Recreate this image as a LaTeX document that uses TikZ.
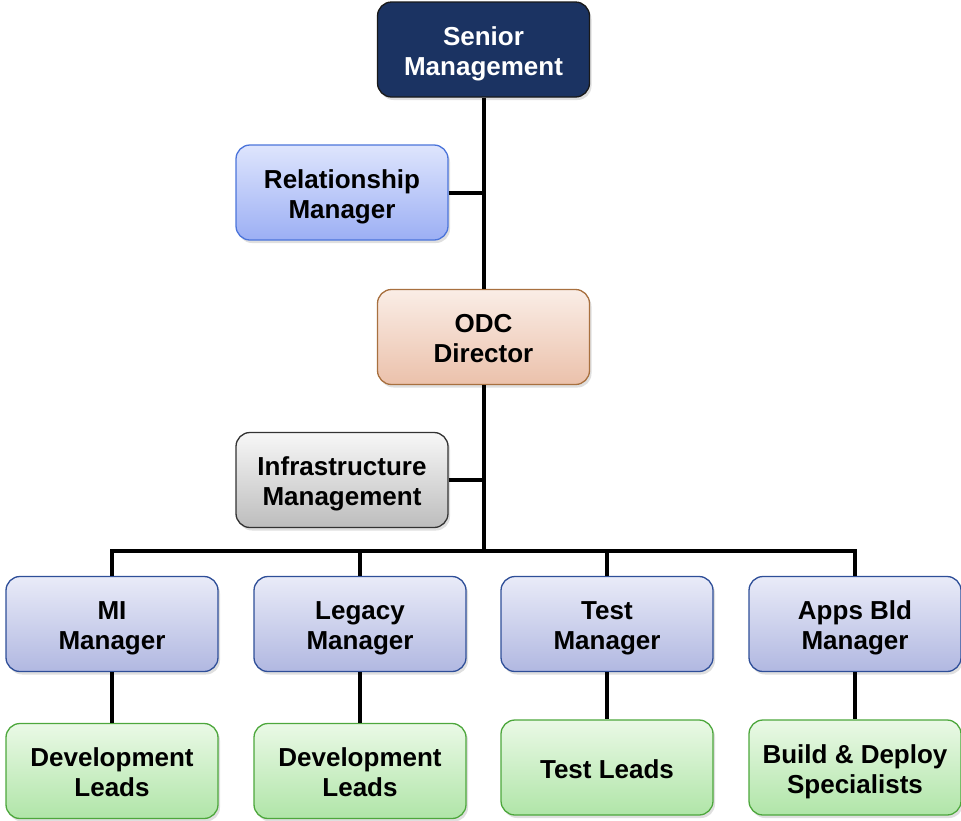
\documentclass[tikz,border=0pt]{standalone}
\usepackage{fontspec}
\setmainfont{Liberation Sans}
\usetikzlibrary{shadows}
\definecolor{navy}{HTML}{1B3362}
\definecolor{rmtop}{HTML}{DEE5FD}
\definecolor{rmbot}{HTML}{9CAFF4}
\definecolor{rmline}{HTML}{4B74DA}
\definecolor{odtop}{HTML}{FAEDE6}
\definecolor{odbot}{HTML}{EBC1AB}
\definecolor{odline}{HTML}{A8703F}
\definecolor{imtop}{HTML}{F7F7F7}
\definecolor{imbot}{HTML}{BDBDBD}
\definecolor{mgtop}{HTML}{E9EBF8}
\definecolor{mgbot}{HTML}{B1B8E1}
\definecolor{mgline}{HTML}{2E4E98}
\definecolor{ldtop}{HTML}{EAF9E6}
\definecolor{ldbot}{HTML}{B0E5A8}
\definecolor{ldline}{HTML}{4DA73C}
\newcommand\boxtwo[2]{\rule{0pt}{28pt}#1\\#2\rule[-7pt]{0pt}{7pt}}
\newcommand\boxone[1]{\rule[-7pt]{0pt}{35pt}#1}
\begin{document}
\begin{tikzpicture}[x=1pt,y=-1pt,
  box/.style={rounded corners=14pt, minimum width=212pt, minimum height=95pt,
    align=center, font=\fontsize{26}{30}\selectfont\bfseries, line width=1.3pt,
    inner sep=0pt, shading=axis,
    drop shadow={shadow xshift=2pt, shadow yshift=-3pt, opacity=0.25}},
  smbox/.style={box, top color=navy, bottom color=navy, draw=black!90, text=white},
  rmbox/.style={box, top color=rmtop, bottom color=rmbot, draw=rmline},
  odbox/.style={box, top color=odtop, bottom color=odbot, draw=odline},
  imbox/.style={box, top color=imtop, bottom color=imbot, draw=black!80},
  mgbox/.style={box, top color=mgtop, bottom color=mgbot, draw=mgline},
  ldbox/.style={box, top color=ldtop, bottom color=ldbot, draw=ldline},
  conn/.style={line width=4pt, draw=black}]
\useasboundingbox (0,0) rectangle (961,820);
\node[smbox] (sm) at (483.5,49.5) {\boxtwo{Senior}{Management}};
\node[rmbox] (rm) at (342,192.5) {\boxtwo{Relationship}{Manager}};
\node[odbox] (odc) at (483.5,337) {\boxtwo{ODC}{Director}};
\node[imbox] (im) at (342,480) {\boxtwo{Infrastructure}{Management}};
\node[mgbox] (mi) at (112,624) {\boxtwo{MI}{Manager}};
\node[mgbox] (leg) at (360,624) {\boxtwo{Legacy}{Manager}};
\node[mgbox] (tst) at (607,624) {\boxtwo{Test}{Manager}};
\node[mgbox] (app) at (855,624) {\boxtwo{Apps Bld}{Manager}};
\node[ldbox] (mil) at (112,771) {\boxtwo{Development}{Leads}};
\node[ldbox] (legl) at (360,771) {\boxtwo{Development}{Leads}};
\node[ldbox] (tstl) at (607,767.5) {\boxone{Test Leads}};
\node[ldbox] (appl) at (855,767.5) {\boxtwo{Build \& Deploy}{Specialists}};
\coordinate (bar) at (odc.south |- 0,551);
\draw[conn] (sm.south) -- (odc.north);
\draw[conn] (rm.east) -- (rm.east -| sm.south);
\draw[conn] (odc.south) -- (bar);
\draw[conn] (im.east) -- (im.east -| bar);
\draw[conn] (mi.north) -- (mi.north |- bar) -- (app.north |- bar) -- (app.north);
\draw[conn] (leg.north) -- (leg.north |- bar);
\draw[conn] (tst.north) -- (tst.north |- bar);
\draw[conn] (mi.south) -- (mil.north);
\draw[conn] (leg.south) -- (legl.north);
\draw[conn] (tst.south) -- (tstl.north);
\draw[conn] (app.south) -- (appl.north);
\end{tikzpicture}
\end{document}
